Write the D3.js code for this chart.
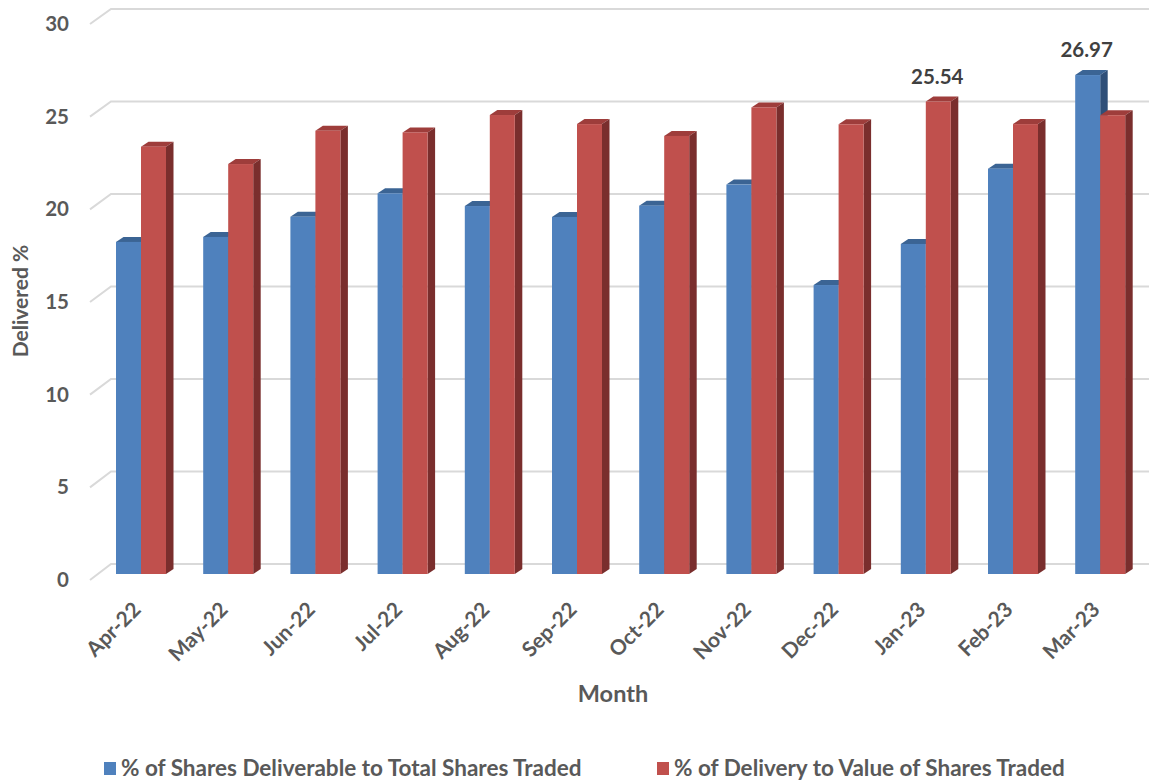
<!DOCTYPE html>
<html>
<head>
<meta charset="utf-8">
<script src="https://cdn.jsdelivr.net/npm/d3@7"></script>
<style>
  html, body { margin: 0; padding: 0; background: #ffffff; }
  svg { display: block; }
  text { font-family: Lato, "Open Sans", sans-serif; font-weight: bold; }
</style>
</head>
<body>
<svg id="chart" width="1151" height="784"></svg>
<script>
// Monthly delivery statistics
const months = ["Apr-22", "May-22", "Jun-22", "Jul-22", "Aug-22", "Sep-22",
                "Oct-22", "Nov-22", "Dec-22", "Jan-23", "Feb-23", "Mar-23"];
const sharesDeliverable = [17.95, 18.22, 19.31, 20.58, 19.89, 19.30,
                           19.91, 21.05, 15.62, 17.84, 21.91, 26.97];
const deliveryToValue = [23.10, 22.16, 23.96, 23.87, 24.81, 24.32,
                         23.68, 25.22, 24.31, 25.54, 24.32, 24.80];
const seriesNames = ["% of Shares Deliverable to Total Shares Traded",
                     "% of Delivery to Value of Shares Traded"];
const yTicks = [0, 5, 10, 15, 20, 25, 30];
// Only these values carry a data label
const labelled = [{ series: 1, month: "Jan-23" }, { series: 0, month: "Mar-23" }];

const series = [sharesDeliverable, deliveryToValue];
const faceColors = [
  { front: "#4F81BD", top: "#3B6494", side: "#2F4F78" },
  { front: "#C0504D", top: "#9E3D3B", side: "#7A2E2D" }
];

const svg = d3.select("#chart");
const depthX = 7.5, depthY = -5;

// Scales: bar faces, back-wall gridlines and front tick labels
const x = d3.scaleBand().domain(months).range([97.4, 1143.8])
  .paddingInner(0.4266).paddingOuter(0.2133);
const xs = d3.scaleBand().domain([0, 1]).range([0, x.bandwidth()]);
const yBar = d3.scaleLinear().domain([0, 30]).range([574, 19]);
const yWall = d3.scaleLinear().domain([0, 30]).range([564, 9]);
const yFront = d3.scaleLinear().domain([0, 30]).range([580, 24]);

// Gridlines on the back wall with a perspective stub on the side wall
const grid = svg.append("g").attr("stroke", "#D9D9D9").attr("stroke-width", 2).attr("fill", "none");
yTicks.forEach(v => {
  grid.append("path")
    .attr("d", `M90,${yFront(v)} L111,${yWall(v)} L1149,${yWall(v)}`);
});

// Y tick labels
const yAxis = svg.append("g").attr("transform", "translate(69,0)")
  .call(d3.axisLeft(yFront).tickValues(yTicks).tickSize(0).tickPadding(0));
yAxis.select(".domain").remove();
yAxis.selectAll("text")
  .attr("fill", "#595959").style("font-size", "20.5px")
  .style("font-family", "Lato, 'Open Sans', sans-serif").style("font-weight", "bold");

// 3D style bars: top, side, then front face
const bars = svg.append("g");
series.forEach((vals, s) => {
  const c = faceColors[s];
  months.forEach((m, i) => {
    const x0 = x(m) + xs(s), x1 = x0 + xs.bandwidth();
    const yt = yBar(vals[i]), yb = yBar(0);
    const g = bars.append("g");
    g.append("path").attr("fill", c.top)
      .attr("d", `M${x0},${yt} L${x0 + depthX},${yt + depthY} L${x1 + depthX},${yt + depthY} L${x1},${yt} Z`);
    g.append("path").attr("fill", c.side)
      .attr("d", `M${x1},${yt} L${x1 + depthX},${yt + depthY} L${x1 + depthX},${yb + depthY} L${x1},${yb} Z`);
    g.append("rect").attr("fill", c.front)
      .attr("x", x0).attr("y", yt).attr("width", x1 - x0).attr("height", yb - yt);
  });
});

// Data labels
labelled.forEach(d => {
  const v = series[d.series][months.indexOf(d.month)];
  svg.append("text")
    .attr("x", x(d.month) + xs(d.series) + xs.bandwidth() / 2 - 1)
    .attr("y", yBar(v) - 18)
    .attr("text-anchor", "middle")
    .attr("fill", "#404040").style("font-size", "20.5px")
    .text(v.toFixed(2));
});

// X tick labels, rotated
const xLabels = svg.append("g");
months.forEach(m => {
  const cx = x(m) + x.bandwidth() / 2 + 1;
  xLabels.append("text")
    .attr("transform", `translate(${cx},611) rotate(-45)`)
    .attr("text-anchor", "end")
    .attr("fill", "#595959").style("font-size", "21px")
    .text(m);
});

// Axis titles
svg.append("text")
  .attr("transform", "translate(28,301) rotate(-90)")
  .attr("text-anchor", "middle")
  .attr("fill", "#595959").style("font-size", "21px")
  .text("Delivered %");
svg.append("text")
  .attr("x", 613).attr("y", 702)
  .attr("text-anchor", "middle")
  .attr("fill", "#595959").style("font-size", "23.5px")
  .text("Month");

// Legend
const legendX = [104, 657];
seriesNames.forEach((name, s) => {
  const lg = svg.append("g").attr("transform", `translate(${legendX[s]},762)`);
  lg.append("rect").attr("width", 12).attr("height", 13).attr("fill", faceColors[s].front);
  lg.append("text").attr("x", 17).attr("y", 14)
    .attr("fill", "#595959").style("font-size", "22.5px")
    .text(name);
});
</script>
</body>
</html>
